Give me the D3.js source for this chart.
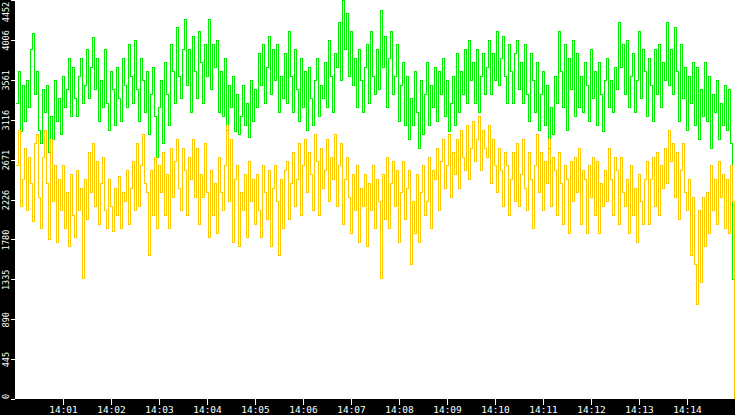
<!DOCTYPE html>
<html><head><meta charset="utf-8">
<script src="https://cdn.jsdelivr.net/npm/d3@7"></script>
<style>html,body{margin:0;padding:0;background:#fff;overflow:hidden}</style>
</head><body>
<svg id="c" width="735" height="415"></svg>
<script>
// ---- data ----
const yTickValues = [0, 445, 890, 1335, 1780, 2226, 2671, 3116, 3561, 4006, 4452];
const xTickLabels = ["14:01","14:02","14:03","14:04","14:05","14:06","14:07","14:08","14:09","14:10","14:11","14:12","14:13","14:14"];
const startTime = "14:00:00";
const endTime = "14:15:00";
const sampleSeconds = 2.5;   // one sample every 2.5 s
const firstOffsetSeconds = 1.25;

const greenValues = [
3300,3650,2980,3500,3100, 3550,3250,3900,4080,3400, 3650,3000,2850,3450,3200, 3500,2750,3150,2900,3550,
3100,3350,2950,3600,3250, 3450,3800,3150,3700,3350, 3150,3600,3800,3300,3500, 3900,3350,3700,4030,3450,
3800,3100,3550,3250,3900, 3300,3000,3650,3450,3050, 3700,3350,3100,3800,3500, 3250,3950,3600,3300,4000,
3450,3100,3800,3550,3200, 3650,2950,3400,3700,3150, 2700,3250,3550,2850,3750, 3400,3050,3950,3650,3300,
4150,3600,3350,3900,4230, 3500,3900,3200,4050,3650, 3350,4100,3750,3300,3950, 3600,4230,3450,3950,3700,
4000,3200,3650,3150,3800, 3000,3500,3250,3600,2980, 3400,2950,3150,3500,3050, 3300,2920,3550,3100,3450,
3250,3850,3500,3950,3300, 3700,4050,3400,3900,3550, 3950,3200,3600,3350,3850, 3300,4100,3600,3200,3900,
3450,3100,3800,3250,3650, 3000,3700,3350,3050,3550, 3800,3150,3500,3350,3750, 3250,4000,3600,3200,3850,
3700,4200,3550,4450,3900, 4300,3600,4100,3500,3800, 3250,3900,3550,3200,3700, 3950,3300,4100,3600,3400,
3900,3450,4330,3700,4050, 3250,3800,4100,3400,3600, 3950,3100,3500,3750,3050, 3600,2900,3350,3050,3650,
3200,2800,3550,2950,3400, 3750,3050,3500,3250,3700, 3100,3650,3400,3800,3150, 3550,2980,3300,3600,3050,
3850,3200,3650,3400,3900, 3300,4000,3550,3750,3300, 3900,3200,3600,3850,3400, 3700,4000,3400,3850,3550,
4100,3500,3800,4050,3600, 3300,3950,3650,3300,3850, 4000,3450,3750,3300,3950, 3400,3100,3850,3550,3200,
3750,3000,3400,3650,3050, 3500,2800,3250,2950,3600, 3300,4100,3650,3250,3950, 3000,3800,3450,4000,3150,
3850,3250,3600,3200,3750, 3500,3100,3900,3350,3650, 3050,3750,3400,2980,3550, 3800,3250,3550,3200,3700,
3450,4200,3700,3950,3400, 4000,3250,3600,3850,3200, 3550,4100,3350,3900,3650, 3150,3800,3500,3100,3900,
3400,3950,3250,3750,3550, 4200,3500,3900,3400,4150, 3650,3100,3950,3350,3700, 3000,3600,3300,3750,3050,
3700,2900,3450,3150,3750, 3100,3600,2800,3400,3200, 3550,2900,3300,3050,3500, 3000,3450,2850,1330,960
];

const orangeValues = [
2600,3000,2150,2450,2800, 2100,2700,2400,1980,2850, 2950,2250,1900,2700,3000, 2400,1780,2900,2200,2600,
1750,2450,2100,2600,1900, 2300,1700,2500,2050,1800, 2550,2100,2350,1350,2450, 2000,2750,2300,2850,2150,
2650,1950,2400,2700,2100, 1900,2450,2150,1870,2350, 2050,2480,1900,2300,2200, 2550,1950,2350,2650,2100,
2850,2150,2600,2950,2400, 2300,1600,2550,2050,2700, 1900,2600,2300,2750,2050, 2500,1900,2800,2250,2650,
2900,2350,2100,2800,2550, 2050,2700,2450,2900,2250, 2800,1950,2500,2250,2850, 2300,1800,2550,2050,2400,
1850,2700,2300,2100,2600, 3050,2200,2900,1750,2450, 2600,1700,2300,2100,2500, 1800,2650,2200,2450,1950,
2500,2100,1800,2600,2300, 2000,2550,1700,2350,2600, 2200,1600,2450,1900,2550, 2650,2000,2400,2750,2150,
2450,2850,2050,2600,2900, 2300,2750,2500,2100,2950, 2650,2050,2800,2350,2550, 2900,2200,2700,2450,2950,
2150,2600,2850,1950,2450, 2700,2250,1850,2500,2100, 2600,1750,2350,2150,2500, 1700,2400,2100,2600,1900,
2450,2200,1350,2500,2000, 2700,1900,2400,2650,2150, 2550,1750,2300,2650,2000, 2350,2550,1500,2200,1850,
2500,1750,2300,2600,2050, 2200,2700,1900,2550,2450, 2800,2100,2650,2900,2350, 2600,2950,2250,2750,2500,
2900,2350,3000,2700,2550, 3050,2450,2800,3100,2650, 2900,3150,2550,3000,2800, 2700,3050,2400,2900,2600,
2300,2800,2550,2150,2750, 2600,2050,2450,2750,2200, 2850,2150,2500,2900,2350, 2100,2750,2450,1900,2600,
2950,2300,2750,2100,2650, 2400,2900,2150,2700,2550, 2050,2750,2400,1950,2600, 2450,1850,2650,2200,2700,
2300,2800,1950,2550,2450, 1850,2600,2250,2700,2050, 2650,1850,2400,2150,2550, 2200,2800,2450,2050,2700,
2550,1950,2700,2300,2150, 2450,1850,2600,2050,2350, 1750,2500,2200,1950,2450, 2650,1950,2450,2700,2150,
2750,2050,2600,2350,2800, 2400,3000,2650,2850,2250, 2750,2000,2550,2850,2300, 2100,2450,1600,2250,1500,
1050,2100,1300,2250,1700, 2300,1850,2600,2100,2450, 1950,2650,2250,2500,1900, 2450,1850,2600,2200,0
];

// ---- chart ----
const W = 735, H = 415;
const left = 15, bottom = 399;
const parse = d3.timeParse("%Y-%m-%d %H:%M:%S");
const t0 = parse("2020-01-01 " + startTime);
const t1 = parse("2020-01-01 " + endTime);
const tAt = i => new Date(t0.getTime() + (firstOffsetSeconds + i * sampleSeconds) * 1000);

const x = d3.scaleTime().domain([t0, t1]).range([left, W]);
const y = d3.scaleLinear().domain([0, 4452]).range([bottom, 0]);

const svg = d3.select("#c");
svg.append("rect").attr("x", 0).attr("y", 0).attr("width", W).attr("height", H).attr("fill", "#fff");

svg.append("defs").append("clipPath").attr("id", "clip")
  .append("rect").attr("x", left).attr("y", 0).attr("width", W - left).attr("height", bottom);

const line = d3.line()
  .x((d, i) => x(tAt(i)))
  .y(d => y(d))
  .curve(d3.curveStepAfter);

const plot = svg.append("g").attr("clip-path", "url(#clip)");
plot.append("path").datum(greenValues)
  .attr("d", line).attr("fill", "none").attr("stroke", "#00ee00")
  .attr("stroke-width", 1).attr("shape-rendering", "crispEdges");
plot.append("path").datum(orangeValues)
  .attr("d", line).attr("fill", "none").attr("stroke", "#ffc800")
  .attr("stroke-width", 1).attr("shape-rendering", "crispEdges");

// axis strips
svg.append("rect").attr("x", 0).attr("y", 0).attr("width", left).attr("height", H).attr("fill", "#000");
svg.append("rect").attr("x", 0).attr("y", bottom).attr("width", W).attr("height", H - bottom).attr("fill", "#000");

// y axis
const yAxis = d3.axisLeft(y).tickValues(yTickValues).tickSize(4).tickFormat(d => String(d));
const gy = svg.append("g").attr("transform", `translate(${left},0)`).call(yAxis);
gy.select(".domain").remove();
gy.selectAll(".tick line").attr("stroke", "#fff").attr("shape-rendering", "crispEdges");
gy.selectAll(".tick text").each(function(d) {
  const py = y(d);
  const c = Math.max(11.5, Math.min(396, py));
  d3.select(this)
    .attr("fill", "#fff")
    .attr("font-family", "'DejaVu Sans Mono', monospace")
    .attr("font-size", "8.5px")
    .attr("text-anchor", "middle")
    .attr("dy", 0)
    .attr("x", py - c)
    .attr("y", 0)
    .attr("transform", "translate(-6,0) rotate(-90)");
});

// x axis
const xTickDates = xTickLabels.map(s => parse("2020-01-01 " + s + ":00"));
const xAxis = d3.axisBottom(x).tickValues(xTickDates).tickSize(6).tickFormat(d3.timeFormat("%H:%M"));
const gx = svg.append("g").attr("transform", `translate(0,${bottom})`).call(xAxis);
gx.select(".domain").remove();
gx.selectAll(".tick line").attr("stroke", "#fff").attr("shape-rendering", "crispEdges");
gx.selectAll(".tick text")
  .attr("fill", "#fff")
  .attr("font-family", "'DejaVu Sans Mono', monospace")
  .attr("font-size", "9.5px")
  .attr("dy", 0)
  .attr("y", 14);
</script>
</body></html>
